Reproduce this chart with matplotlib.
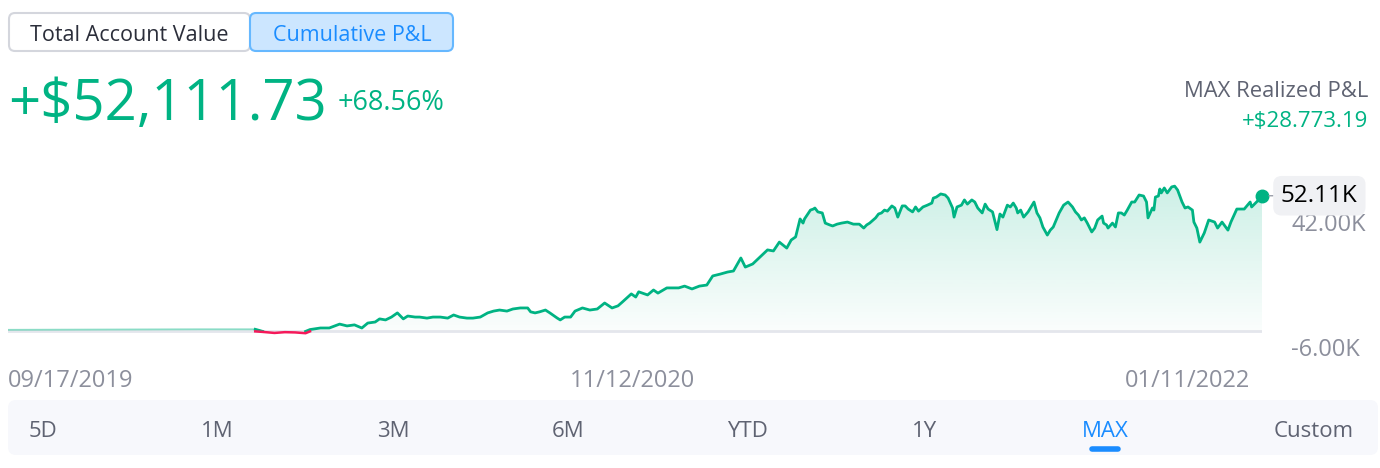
import numpy as np
import pandas as pd
import matplotlib
matplotlib.use('Agg')
import matplotlib.pyplot as plt
import matplotlib.dates as mdates
from matplotlib.patches import FancyBboxPatch, Polygon
from matplotlib.transforms import ScaledTranslation

plt.rcParams['font.family'] = ['Open Sans', 'DejaVu Sans']

# cumulative P&L, thousands of dollars, by day since start date
start = pd.Timestamp('2019-09-17')
days = [0, 62, 130, 167, 172, 180, 187, 194, 201, 204, 211, 217, 224, 229, 234, 239, 243,
        248, 251, 255, 259, 263, 267, 270, 275, 278, 283, 287, 292, 297, 301, 305, 310, 314,
        319, 324, 328, 332, 337, 341, 346, 351, 353, 356, 359, 363, 366, 371, 373, 376, 380,
        383, 388, 393, 398, 403, 408, 412, 415, 421, 424, 426, 432, 436, 439, 445, 453, 457,
        462, 467, 472, 476, 481, 486, 490, 495, 498, 503, 508,
        513, 517, 521, 526, 529, 532,
        535, 537, 538, 542, 544, 545, 547, 550, 552, 555, 557, 560, 563, 567, 571, 575, 578,
        580, 582, 586, 588, 590, 592, 594, 597, 599, 601, 604, 606, 608, 611, 613, 615, 618,
        621, 624, 625, 627, 630, 633, 635, 638, 639, 641, 644, 646, 648, 651, 653, 655, 658,
        660, 662, 665, 668,
        670, 672, 675, 677, 679, 681, 682, 684, 686, 689, 691, 693, 695, 697, 699, 702, 704,
        706, 708, 710, 713, 716, 719, 721, 723, 725, 727, 729, 732, 734, 736, 739, 740, 742,
        743, 746, 748, 750, 752, 754, 756, 759, 761, 764, 767, 769, 770, 773, 774, 775, 777,
        778, 779, 781, 783, 786, 788, 790, 793, 795, 797, 800, 801, 803, 805,
        808, 811, 815, 817, 820, 824, 826, 830, 835, 839, 840, 844, 847]
pnl = [0.6, 0.7, 0.8, 0.8, -0.2, -0.6, -0.3, -0.4, -0.7, 0.7, 1.3, 1.3, 2.8, 2.1, 2.5, 1.3, 3.2,
       3.6, 4.8, 4.4, 5.5, 7.1, 4.8, 5.9, 5.5, 5.5, 5.1, 5.5, 5.5, 5.1, 6.3, 5.5, 5.1, 5.1,
       5.5, 7.1, 7.8, 8.2, 7.8, 8.6, 9.0, 9.0, 7.5, 7.1, 7.5, 8.2, 7.1, 5.1, 4.4, 5.5, 5.5,
       7.8, 9.0, 8.2, 8.6, 10.9, 9.0, 9.8, 11.3, 14.4, 13.2, 15.2, 14.0, 15.9, 14.7, 16.7, 16.7, 17.4,
       16.3, 17.4, 17.8, 21.3, 22.0, 22.8, 23.2, 28.2, 24.7, 25.9, 28.6,
       31.3, 30.9, 34.3, 32.0, 35.1, 36.3,
       43.2, 41.6, 43.2, 46.6, 47.0, 47.4, 45.9, 45.5, 41.6, 40.9, 40.5, 41.2, 41.6, 42.0, 41.2, 41.2, 39.7,
       40.9, 41.6, 43.6, 45.1, 45.5, 46.6, 46.2, 48.2, 47.4, 43.9, 48.2, 48.2, 47.0, 45.9, 47.8, 46.2, 47.8,
       48.5, 49.3, 51.2, 51.6, 52.8, 52.4, 51.2, 47.4, 43.9, 47.8, 48.5, 50.5, 48.9, 50.5, 49.7, 47.4, 45.5,
       48.9, 47.0, 45.9, 39.1,
       45.1, 43.9, 48.5, 47.8, 49.3, 47.4, 45.5, 46.6, 43.9, 45.9, 47.8, 49.7, 45.5, 43.6, 40.1, 37.0, 38.9,
       40.1, 42.8, 45.5, 48.5, 49.7, 47.8, 45.9, 44.7, 42.8, 43.6, 41.6, 38.2, 39.7, 42.8, 44.3, 41.6, 40.9,
       39.7, 41.6, 40.1, 45.5, 45.5, 44.7, 46.6, 49.7, 49.7, 52.4, 52.0, 49.7, 43.6, 47.4, 46.6, 51.6, 52.0,
       54.7, 53.2, 55.1, 53.2, 55.5, 55.8, 54.3, 49.7, 47.4, 47.8, 46.6, 42.0, 39.7, 34.3,
       37.8, 42.8, 42.0, 39.7, 42.0, 38.9, 42.0, 47.0, 47.0, 49.7, 47.8, 50.1, 52.11]
ytick_vals = [-6, 42]
date_ticks = ['2019-09-17', '2020-11-12', '2022-01-11']
ranges = ['5D', '1M', '3M', '6M', 'YTD', '1Y', 'MAX', 'Custom']
range_x = [43, 217, 393, 568, 747, 925, 1105, 1314]

GREEN = '#00b383'
RED = '#f5195a'
GREY = '#8c8f9c'
BLUE = '#1a8cff'

assert len(days) == len(pnl)
dates = start + pd.to_timedelta(days, unit='D')
vals = np.array(pnl)

fig = plt.figure(figsize=(13.8, 4.68), dpi=100)

# background layer in pixel coordinates for the UI bits
bg = fig.add_axes([0, 0, 1, 1], zorder=0)
bg.set_xlim(0, 1380)
bg.set_ylim(468, 0)
bg.axis('off')

bg.add_patch(FancyBboxPatch((9, 13), 241, 38, boxstyle='round,pad=0,rounding_size=6',
                            fc='white', ec='#d4d6dd', lw=1.5))
bg.add_patch(FancyBboxPatch((250, 13), 203, 38, boxstyle='round,pad=0,rounding_size=6',
                            fc='#cce6ff', ec='#66b8ff', lw=1.5))
bg.text(129, 41, 'Total Account Value', ha='center', va='baseline', fontsize=15.5, color='#2b2e3a')
bg.text(352, 41, 'Cumulative P&L', ha='center', va='baseline', fontsize=15.5, color=BLUE)

bg.text(8, 120, '+$52,111.73', ha='left', va='baseline', fontsize=40.5, color=GREEN)
bg.text(338, 110, '+68.56%', ha='left', va='baseline', fontsize=19.5, color=GREEN)
bg.text(1368, 97, 'MAX Realized P&L', ha='right', va='baseline', fontsize=15.8, color='#5f6372')
bg.text(1368, 127, '+$28.773.19', ha='right', va='baseline', fontsize=16, color=GREEN)

bg.add_patch(FancyBboxPatch((8, 400), 1370, 55, boxstyle='round,pad=0,rounding_size=8',
                            fc='#f7f8fc', ec='none'))
for lab, xp in zip(ranges, range_x):
    bg.text(xp, 437, lab, ha='center', va='baseline', fontsize=16,
            color=BLUE if lab == 'MAX' else '#5f6372')
bg.plot([1092, 1118], [449, 449], color=BLUE, lw=4, solid_capstyle='round')

# main chart
ax = fig.add_axes([8 / 1380, 1 - 347 / 468, 1254 / 1380, 177 / 468], zorder=1)
ax.patch.set_alpha(0)
x_end = start + pd.Timedelta(days=847)

# gradient fill under the curve
xn = mdates.date2num(dates)
grad = np.linspace(0.2, 0.02, 256).reshape(-1, 1)
rgba = np.zeros((256, 1, 4))
rgba[..., 0] = 0 / 255
rgba[..., 1] = 179 / 255
rgba[..., 2] = 131 / 255
rgba[..., 3] = grad
img = ax.imshow(rgba, aspect='auto', extent=[xn[0], xn[-1], 0, max(pnl)],
                origin='upper', zorder=1)
poly = Polygon(np.column_stack([np.r_[xn[0], xn, xn[-1]], np.r_[0, np.clip(vals, 0, None), 0]]),
               closed=True, fc='none', ec='none', transform=ax.transData)
ax.add_patch(poly)
img.set_clip_path(poly)
ax.set_xlim(start, x_end)
ax.set_ylim(-6, 62)

ax.axhline(0, color='#e4e6ec', lw=2, zorder=1.5)
pos = np.where(vals >= 0, vals, np.nan)
neg = np.where(vals <= 0, vals, np.nan)
# keep continuity at sign changes
for i in range(1, len(vals)):
    if (vals[i - 1] < 0) != (vals[i] < 0):
        pos[i - 1] = vals[i - 1] if vals[i - 1] >= 0 else 0
        pos[i] = vals[i] if vals[i] >= 0 else 0
        neg[i - 1] = vals[i - 1] if vals[i - 1] < 0 else 0
        neg[i] = vals[i] if vals[i] < 0 else 0
early = np.array(days) <= 172
pos_early = np.where(early, pos, np.nan)
pos_late = np.where(early & (np.array(days) < 167), np.nan, pos)
ax.plot(dates, pos_early, color=GREEN, lw=1.3, alpha=0.45, zorder=2)
ax.plot(dates, pos_late, color=GREEN, lw=2, zorder=2)
ax.plot(dates, neg, color=RED, lw=1.8, zorder=2)
ax.plot(dates[-1:], vals[-1:], 'o', color=GREEN, ms=9, zorder=3, clip_on=False)

for s in ax.spines.values():
    s.set_visible(False)
ax.yaxis.tick_right()
ax.set_yticks(ytick_vals)
ax.set_yticklabels([f'{v:.2f}K' for v in ytick_vals])
ax.tick_params(axis='y', length=0, pad=21, labelsize=17, labelcolor=GREY)

tick_dates = pd.to_datetime(date_ticks)
ax.set_xticks(tick_dates)
ax.xaxis.set_major_formatter(mdates.DateFormatter('%m/%d/%Y'))
ax.tick_params(axis='x', length=0, pad=16, labelsize=17, labelcolor=GREY)
xl = ax.get_xticklabels()
xl[0].set_ha('left')
xl[1].set_ha('center')
xl[2].set_ha('right')
xl[2].set_transform(xl[2].get_transform() + ScaledTranslation(-0.12, 0, fig.dpi_scale_trans))

# last value badge
ax.annotate(f'{vals[-1]:.2f}K', xy=(dates[-1], vals[-1]), xytext=(19, 0),
            textcoords='offset pixels', ha='left', va='center', fontsize=17.5, color='black',
            annotation_clip=False, zorder=5,
            bbox=dict(boxstyle='round,pad=0.32,rounding_size=0.35', fc='#f0f1f4', ec='none'),
            arrowprops=dict(arrowstyle='-', color='#9a9da8', lw=1, shrinkA=0, shrinkB=5))

fig.savefig('out.png', dpi=100)
